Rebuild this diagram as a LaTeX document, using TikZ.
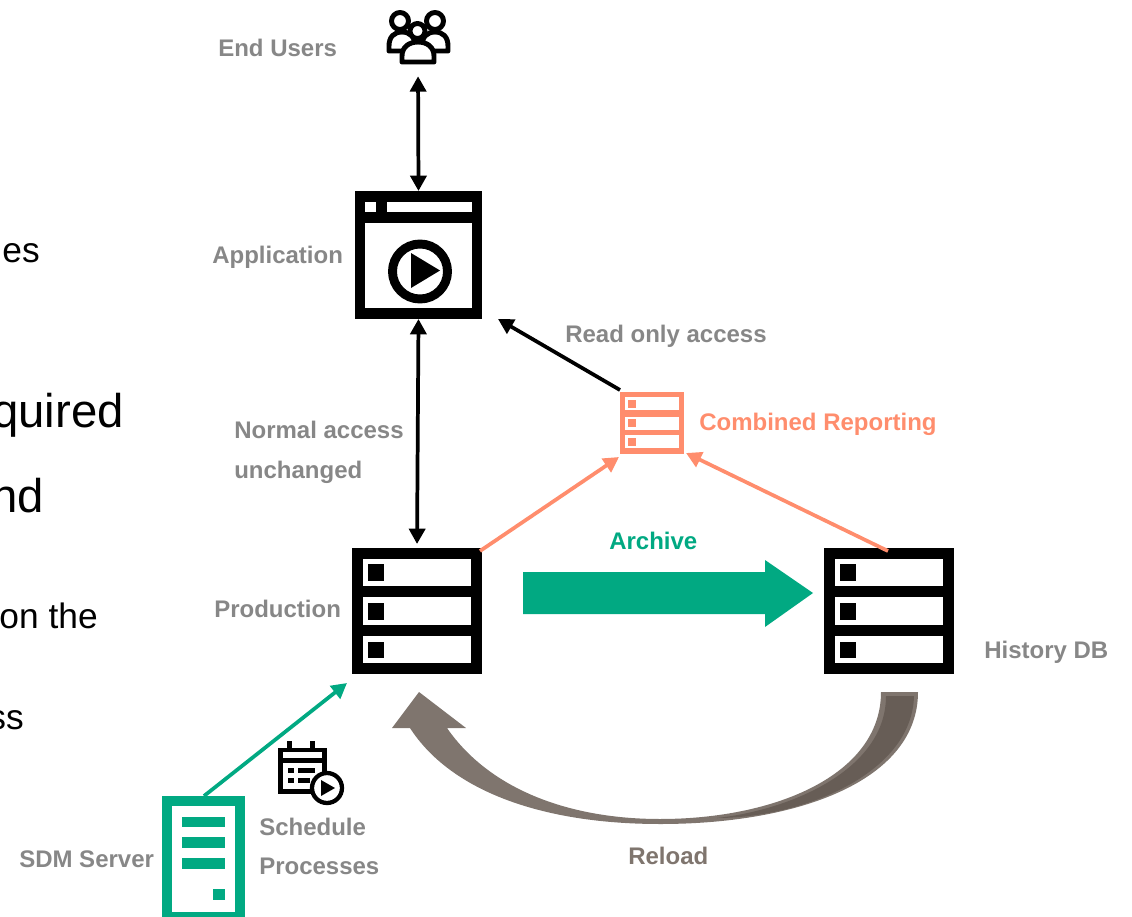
\documentclass[tikz,border=0pt]{standalone}
\usepackage{fontspec}
\setmainfont{Liberation Sans}
\usetikzlibrary{arrows.meta}
\definecolor{hpegreen}{HTML}{01A982}
\definecolor{salmon}{HTML}{FF8D6D}
\definecolor{lbl}{HTML}{878787}
\definecolor{brownA}{HTML}{7F756E}
\definecolor{brownB}{HTML}{675D56}
\tikzset{
  x=0.75pt,y=-0.75pt,
  frame/.style={fill=black,inner sep=0pt,outer sep=0pt},
  lab/.style={font=\fontsize{18}{20}\selectfont\bfseries,text=lbl,anchor=base west,inner sep=0pt},
  body/.style={font=\fontsize{35.5}{40}\selectfont,text=black,anchor=base east,inner sep=0pt},
  bodyS/.style={font=\fontsize{26.5}{30}\selectfont,text=black,anchor=base east,inner sep=0pt},
  two/.style={line width=2.8pt,{Triangle[width=12pt,length=11.5pt]}-{Triangle[width=12pt,length=11.5pt]}},
  one/.style={line width=2.8pt,-{Triangle[width=12pt,length=11.5pt]}},
  ico/.style={line width=3.7pt,draw=black,fill=white,line join=round}
}
\newcommand{\srvslots}[1]{%
  \begin{scope}[shift={(#1,0)}]
    \foreach \a/\b in {559/586,597/625,636/663}{\fill[white] (363,\a) rectangle (471,\b);}
    \foreach \a/\b in {564/581,603/620,642/658}{\fill[black] (368,\a) rectangle (384,\b);}
  \end{scope}}
\begin{document}
\begin{tikzpicture}
\useasboundingbox (0,0) rectangle (1132,917);
\clip (0,0) rectangle (1132,917);
% left clipped body text
\node[bodyS] (t1) at (40,262) {es};
\node[body] (t2) at (124,427) {quired};
\node[body] (t3) at (44,512) {nd};
\node[bodyS] (t4) at (98,628) {on the};
\node[bodyS] (t5) at (24,729) {ss};

% end users icon
\node[inner sep=0pt,minimum width=47pt,minimum height=39pt] (users) at (418,38) {};
\draw[ico] (389,51) -- (389,46) .. controls (389,37) and (394,32) .. (402,32) .. controls (410,32) and (415,37) .. (415,46) -- (415,51) -- cycle;
\draw[ico] (448,51) -- (448,46) .. controls (448,37) and (443,32) .. (435,32) .. controls (427,32) and (422,37) .. (422,46) -- (422,51) -- cycle;
\draw[ico] (400,21) circle[radius=8.5];
\draw[ico] (435,21) circle[radius=8.5];
\draw[ico] (402,62) -- (402,56) .. controls (402,47) and (409,42) .. (418,42) .. controls (427,42) and (434,47) .. (434,56) -- (434,62) -- cycle;
\draw[ico] (417.5,31) circle[radius=7.5];

% application window
\node[frame,minimum width=95.25pt,minimum height=96pt] (app) at (418.5,255) {};
\fill[white] (365,202) rectangle (376,212);
\fill[white] (387,202) rectangle (472,212);
\fill[white] (365,223) rectangle (472,308);
\draw[black,line width=6.7pt] (420,271.5) circle[radius=27.5];
\fill[black] (411,253) -- (440,270.5) -- (411,288) -- cycle;

% production and history
\node[frame,minimum width=97.5pt,minimum height=94.5pt] (prod) at (417,611) {};
\srvslots{0}
\node[frame,minimum width=97.5pt,minimum height=94.5pt] (hist) at (889,611) {};
\srvslots{472}

% combined reporting
\node[inner sep=0pt,outer sep=0pt,fill=salmon,minimum width=48pt,minimum height=46.5pt] (comb) at (652,423) {};
\foreach \a/\b in {397/410,417/430,435/448}{\fill[white] (625,\a) rectangle (679,\b);}
\foreach \a/\b in {400/408,419/427,438/446}{\fill[salmon] (628,\a) rectangle (636,\b);}

% SDM server
\node[inner sep=0pt,outer sep=0pt,fill=hpegreen,minimum width=62.25pt,minimum height=91.5pt] (sdm) at (203.5,857) {};
\fill[white] (172,806) rectangle (235,912);
\foreach \a/\b in {817/827,837/848,858/869}{\fill[hpegreen] (182,\a) rectangle (225,\b);}
\fill[hpegreen] (213,889) rectangle (225,900);

% calendar icon
\node[inner sep=0pt,outer sep=0pt,minimum width=37pt,minimum height=35pt] (cal) at (302.5,771) {};
\fill[black] (278,748) rectangle (327,794);
\fill[white] (283,752) rectangle (322,758);
\fill[white] (283,763) rectangle (322,789);
\fill[black] (287,741) rectangle (292,748);
\fill[black] (310,741) rectangle (315,748);
\fill[black] (288,768) rectangle (294,773);
\fill[black] (288,778) rectangle (294,783);
\fill[black] (298,768) rectangle (315,773);
\fill[black] (298,778) rectangle (310,783);
\draw[black,line width=3.2pt,fill=white] (327,788) circle[radius=15];
\fill[black] (321,780) -- (335,788) -- (321,796) -- cycle;

% connectors
\draw[two,shorten <=9pt] (users.south) -- (app.north);
\draw[two,shorten >=3pt] (app.south) -- (prod.north);
\draw[one] ([shift={(0,-2)}]comb.north west) -- ([shift={(16,0)}]app.south east);
\draw[one,salmon] ([shift={(-2,3)}]prod.north east) -- ([shift={(-1,3)}]comb.south west);
\draw[one,salmon] ([shift={(-1,3)}]hist.north) -- ([shift={(2,-1)}]comb.south east);
\draw[one,hpegreen] ([shift={(42,0)}]sdm.north west) -- ([shift={(-5,9)}]prod.south west);

% archive arrow
\node[inner sep=0pt,outer sep=0pt,minimum width=0pt] (archA) at (523,593) {};
\node[inner sep=0pt,outer sep=0pt,minimum width=0pt] (archB) at (813,593) {};
\fill[hpegreen] (archA.center) ++(0,-21) -- ++(242,0) -- ++(0,-12) -- (archB.center) -- (765,627) -- (765,614) -- (523,614) -- cycle;

% reload arrow
\fill[brownA] (918,692) .. controls (918,780) and (800,824) .. (660,824)
  .. controls (540,824) and (450,790) .. (410,728) -- (392,728) -- (419,692) -- (466,728) -- (447,728)
  .. controls (490,790) and (570,819) .. (660,819)
  .. controls (775,819) and (881,775) .. (881,692) -- cycle;
\fill[brownB] (914,696) .. controls (912,775) and (800,818) .. (717,818)
  .. controls (790,810) and (886,770) .. (886,696) -- cycle;

% labels
\node[lab] (l1) at (218,57) {End Users};
\node[lab] (l2) at (212,263) {Application};
\node[lab] (l3) at (565,342) {Read only access};
\node[lab,text=salmon] (l4) at (699,430) {Combined Reporting};
\node[lab] (l5) at (234,438) {Normal access};
\node[lab] (l6) at (234,478) {unchanged};
\node[lab,text=hpegreen] (l7) at (609,549) {Archive};
\node[lab] (l8) at (214,617) {Production};
\node[lab] (l9) at (984,658) {History DB};
\node[lab] (l10) at (259,835) {Schedule};
\node[lab] (l11) at (259,874) {Processes};
\node[lab] (l12) at (19,867) {SDM Server};
\node[lab,text=brownA] (l13) at (628,864) {Reload};
\end{tikzpicture}
\end{document}
